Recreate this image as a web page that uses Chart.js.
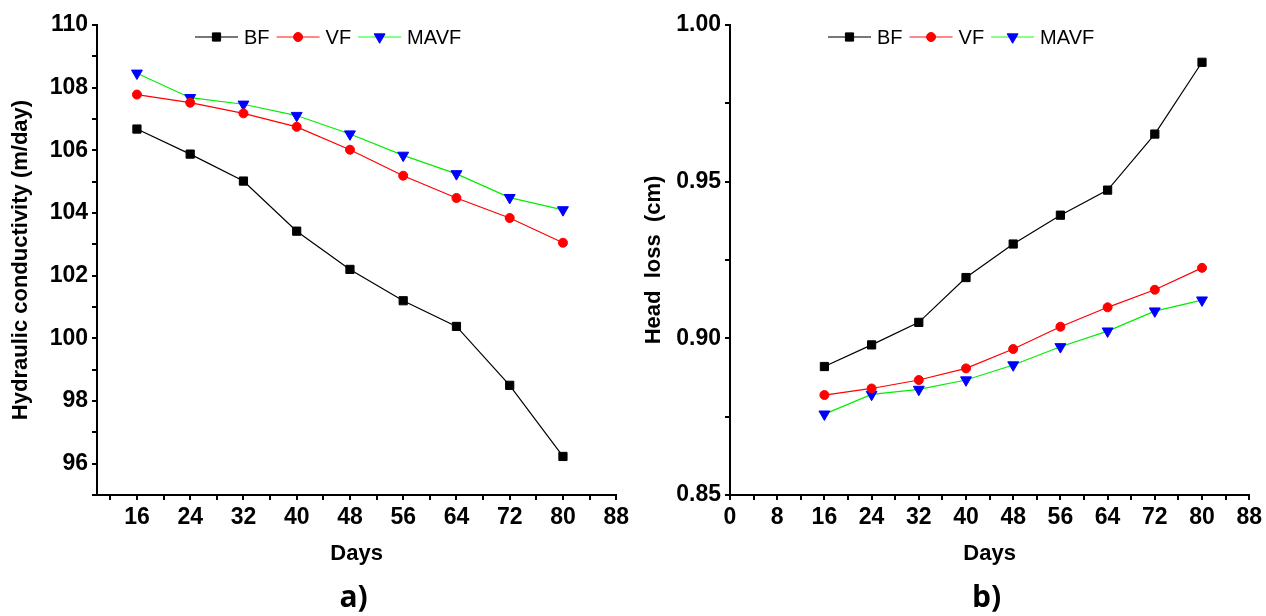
<!DOCTYPE html>
<html>
<head>
<script src="https://cdn.jsdelivr.net/npm/chart.js"></script>
<style>
  body { margin: 0; background: #fff; }
  .box { position: absolute; top: 0; width: 633px; height: 616px; }
</style>
</head>
<body>
<div class="box" style="left:0"><canvas id="chartA"></canvas></div>
<div class="box" style="left:633px"><canvas id="chartB"></canvas></div>
<script>
// sampling days
const days = [16, 24, 32, 40, 48, 56, 64, 72, 80];
const seriesNames = ['BF', 'VF', 'MAVF'];

// a) hydraulic conductivity (m/day)
const condBF   = [106.68, 105.88, 105.02, 103.42, 102.2, 101.2, 100.38, 98.5, 96.23];
const condVF   = [107.78, 107.52, 107.18, 106.75, 106.02, 105.19, 104.48, 103.84, 103.05];
const condMAVF = [108.46, 107.68, 107.47, 107.11, 106.52, 105.84, 105.25, 104.49, 104.1];

// b) head loss (cm)
const lossBF   = [0.891, 0.8979, 0.9051, 0.9194, 0.9301, 0.9393, 0.9473, 0.9652, 0.9881];
const lossVF   = [0.8819, 0.884, 0.8867, 0.8904, 0.8966, 0.9037, 0.9099, 0.9155, 0.9225];
const lossMAVF = [0.8758, 0.8821, 0.8837, 0.8867, 0.8915, 0.8973, 0.9023, 0.9087, 0.9122];

// tick positions (major + minor)
const xTicksA = [12, 16, 20, 24, 28, 32, 36, 40, 44, 48, 52, 56, 60, 64, 68, 72, 76, 80, 84, 88];
const xTicksB = [0, 4, 8, 12, 16, 20, 24, 28, 32, 36, 40, 44, 48, 52, 56, 60, 64, 68, 72, 76, 80, 84, 88];
const yTicksA = [95, 96, 97, 98, 99, 100, 101, 102, 103, 104, 105, 106, 107, 108, 109, 110];
const yTicksB = [0.85, 0.875, 0.9, 0.925, 0.95, 0.975, 1.0];

const narrow = "'Liberation Sans Narrow', 'Liberation Sans', Arial";
const tickFont = { family: narrow, size: 23, weight: 'bold' };
const titleFont = { family: narrow, size: 22, weight: 'bold' };

const styles = [
  { color: '#000000', line: '#000000', legendLine: '#777777', pointStyle: 'rect', radius: 5.8, rot: 0 },
  { color: '#ff0000', line: '#ff0000', legendLine: '#ff8888', pointStyle: 'circle', radius: 4.5, rot: 0 },
  { color: '#0000ff', line: '#00ee00', legendLine: '#88ff88', pointStyle: 'triangle', radius: 6.3, rot: 180 }
];

function makeDatasets(values) {
  return values.map((vals, i) => {
    const s = styles[i];
    return {
      label: seriesNames[i],
      data: days.map((d, j) => ({ x: d, y: vals[j] })),
      borderColor: s.line,
      borderWidth: 1.2,
      backgroundColor: s.color,
      pointBackgroundColor: s.color,
      pointBorderColor: s.color,
      pointBorderWidth: 1,
      pointStyle: s.pointStyle,
      pointRotation: s.rot,
      pointRadius: s.radius,
      legendLine: s.legendLine,
      tension: 0
    };
  });
}

// legend drawn inside the plot, line with marker like the original; panel letter under the plot
const decor = {
  id: 'decor',
  afterDraw(chart, args, opts) {
    const ctx = chart.ctx;
    const area = chart.chartArea;
    let x = area.left + 98;
    const y = area.top + 12;
    ctx.save();
    ctx.font = "20px 'Liberation Sans', Arial, sans-serif";
    ctx.textBaseline = 'middle';
    chart.data.datasets.forEach(ds => {
      ctx.strokeStyle = ds.legendLine;
      ctx.lineWidth = 2;
      ctx.beginPath();
      ctx.moveTo(x, y);
      ctx.lineTo(x + 43, y);
      ctx.stroke();
      ctx.fillStyle = ds.pointBackgroundColor;
      ctx.strokeStyle = ds.pointBorderColor;
      ctx.lineWidth = 1;
      Chart.helpers.drawPoint(ctx, { pointStyle: ds.pointStyle, rotation: ds.pointRotation, radius: ds.pointRadius, borderWidth: 1 }, x + 21.5, y);
      ctx.fillStyle = '#000';
      ctx.fillText(ds.label, x + 49, y + 1);
      x += 49 + ctx.measureText(ds.label).width + 7;
    });
    ctx.font = "bold 30px 'Open Sans', Lato, sans-serif";
    ctx.textAlign = 'center';
    ctx.fillText(opts.panel, (area.left + area.right) / 2 - 3, 598);
    ctx.restore();
  }
};

function axisX(ticks, min, max) {
  return {
    type: 'linear', min: min, max: max,
    afterBuildTicks: s => { s.ticks = ticks.map(v => ({ value: v })); },
    afterFit: s => { s.height = 75; },
    border: { display: true, color: '#000', width: 2 },
    grid: { drawOnChartArea: false, drawTicks: true, tickLength: 5, color: '#000', lineWidth: 2 },
    ticks: {
      color: '#000', font: tickFont, padding: 4, autoSkip: false, maxRotation: 0,
      callback: v => (v % 8 === 0 ? String(v) : '')
    },
    title: { display: true, text: 'Days', color: '#000', font: { family: narrow, size: 22, weight: 'bold' }, padding: { top: 0, bottom: 3 } }
  };
}

function axisY(ticks, min, max, isMajor, fmt, text) {
  return {
    type: 'linear', min: min, max: max,
    afterBuildTicks: s => { s.ticks = ticks.map(v => ({ value: v })); },
    afterFit: s => { s.width = 97; },
    border: { display: true, color: '#000', width: 2 },
    grid: { drawOnChartArea: false, drawTicks: true, tickLength: 5, color: '#000', lineWidth: 2 },
    ticks: {
      color: '#000', font: tickFont, padding: 4, autoSkip: false,
      callback: v => (isMajor(v) ? fmt(v) : '')
    },
    title: { display: true, text: text, color: '#000', font: titleFont, padding: { top: 8, bottom: 0 } }
  };
}

function makeChart(id, values, xAxis, yAxis, label, padRight) {
  return new Chart(document.getElementById(id), {
    type: 'line',
    data: { datasets: makeDatasets(values) },
    options: {
      responsive: true,
      maintainAspectRatio: false,
      animation: false,
      layout: { padding: { top: 25, right: padRight, left: 0, bottom: 46 } },
      plugins: {
        legend: { display: false },
        tooltip: { enabled: false },
        decor: { panel: label }
      },
      scales: { x: xAxis, y: yAxis }
    },
    plugins: [decor]
  });
}

makeChart('chartA', [condBF, condVF, condMAVF],
  axisX(xTicksA, 10, 88),
  axisY(yTicksA, 95, 110, v => v % 2 === 0, v => String(v), 'Hydraulic conductivity (m/day)'),
  'a)', 10);

makeChart('chartB', [lossBF, lossVF, lossMAVF],
  axisX(xTicksB, 0, 88),
  axisY(yTicksB, 0.85, 1.0, v => Math.abs(v * 20 - Math.round(v * 20)) < 1e-6, v => v.toFixed(2), 'Head  loss  (cm)'),
  'b)', 6);
</script>
</body>
</html>
